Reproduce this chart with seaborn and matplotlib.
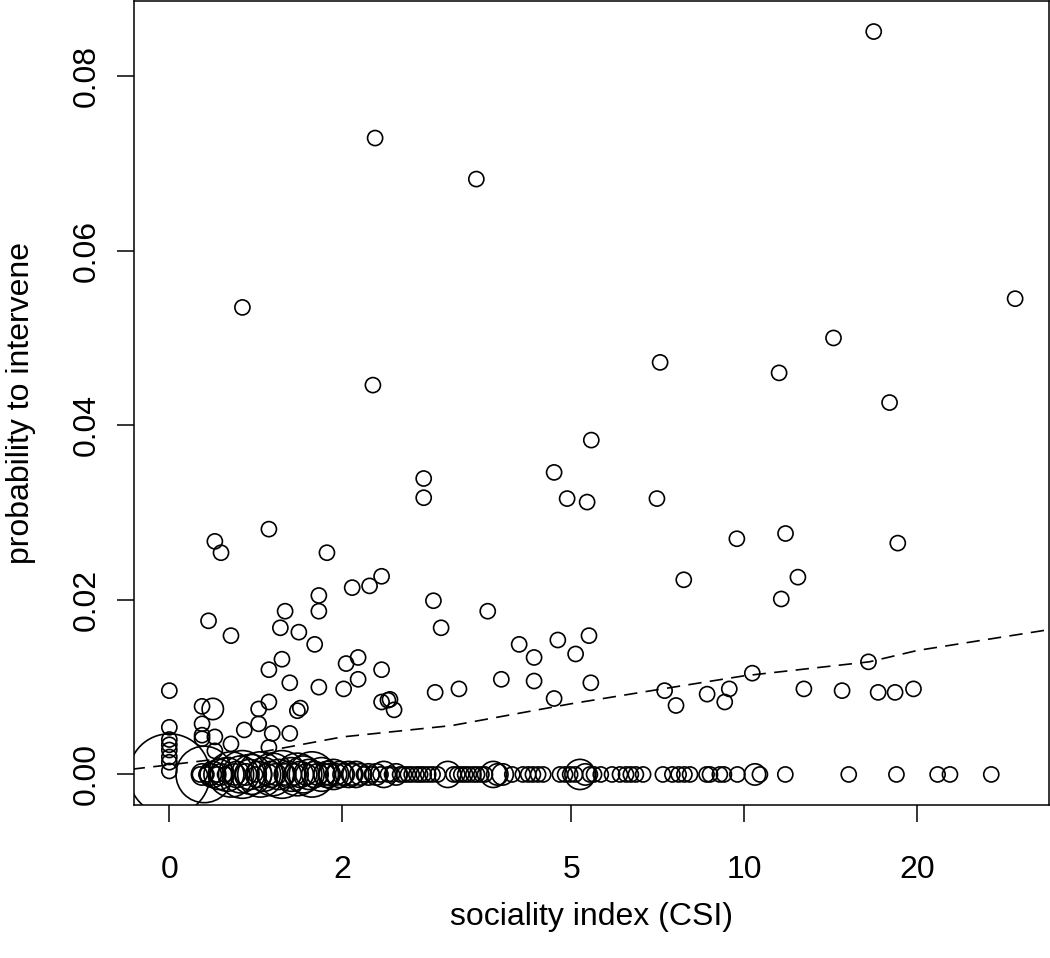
import numpy as np
import pandas as pd
import seaborn as sns
import matplotlib
matplotlib.use('Agg')
import matplotlib.pyplot as plt

# scattered observations (CSI, probability to intervene), one dyad each
pt_csi = [16.8, 2.28, 3.42, 29.6, 1.34, 14.3, 7.14, 11.5, 2.26, 17.9,
          5.42, 4.67, 2.77, 2.77, 4.92, 5.33, 7.05, 1.49, 1.20, 1.23,
          1.88, 11.8, 9.71, 18.5, 7.85, 12.4, 11.6, 2.34, 2.08, 2.23,
          1.82, 1.82, 1.59, 2.88, 3.58, 1.17, 1.28, 1.56, 1.68, 1.79,
          2.97, 4.06, 4.31, 4.74, 5.09, 5.37, 5.41, 1.57, 1.49, 2.03,
          2.13, 2.13, 2.34, 2.01, 1.82, 1.62, 2.90, 3.19, 3.78, 4.31,
          4.67, 7.27, 7.61, 8.62, 9.42, 9.25, 10.33, 12.7, 14.8, 16.45,
          17.1, 18.3, 19.7, 1.14, 1.19, 1.14, 1.14, 1.14, 1.20, 1.20,
          1.28, 1.35, 1.43, 1.43, 1.49, 1.49, 1.51, 1.62, 1.67, 1.69,
          2.34, 2.40, 2.42, 2.46]
pt_prob = [0.0851, 0.0729, 0.0682, 0.0545, 0.0535, 0.0500, 0.0472, 0.0460, 0.0446, 0.0426,
           0.0383, 0.0346, 0.0339, 0.0317, 0.0316, 0.0312, 0.0316, 0.0281, 0.0267, 0.0254,
           0.0254, 0.0276, 0.0270, 0.0265, 0.0223, 0.0226, 0.0201, 0.0227, 0.0214, 0.0216,
           0.0205, 0.0187, 0.0187, 0.0199, 0.0187, 0.0176, 0.0159, 0.0168, 0.0163, 0.0149,
           0.0168, 0.0149, 0.0134, 0.0154, 0.0138, 0.0159, 0.0105, 0.0132, 0.0120, 0.0127,
           0.0134, 0.0109, 0.0120, 0.0098, 0.0100, 0.0105, 0.0094, 0.0098, 0.0109, 0.0107,
           0.0087, 0.0096, 0.0079, 0.0092, 0.0098, 0.0083, 0.0116, 0.0098, 0.0096, 0.0129,
           0.0094, 0.0094, 0.0098, 0.0078, 0.0075, 0.0058, 0.0045, 0.0041, 0.0043, 0.0027,
           0.0035, 0.0051, 0.0075, 0.0058, 0.0083, 0.0031, 0.0047, 0.0047, 0.0073, 0.0076,
           0.0083, 0.0085, 0.0086, 0.0074]
pt_n = [1] * len(pt_csi)
pt_n[74] = 2

# dyads with CSI = 0
zero_prob = [0.0, 0.0004, 0.0014, 0.0020, 0.0028, 0.0034, 0.0040, 0.0054, 0.0096]
zero_n = [29, 1, 1, 1, 1, 1, 1, 1, 1]

# dyads that never intervened (probability 0), n = number of dyads pooled
row_csi = [1.13, 1.14, 1.15, 1.16, 1.18, 1.19, 1.21, 1.22, 1.23, 1.25,
           1.26, 1.28, 1.30, 1.31, 1.33, 1.34, 1.36, 1.38, 1.39, 1.41,
           1.43, 1.44, 1.46, 1.48, 1.50, 1.51, 1.53, 1.55, 1.57, 1.59,
           1.61, 1.63, 1.65, 1.67, 1.69, 1.71, 1.73, 1.75, 1.77, 1.79,
           1.81, 1.84, 1.86, 1.88, 1.90, 1.93, 1.95, 1.98, 2.01, 2.05,
           2.08, 2.11, 2.15, 2.18, 2.22, 2.25, 2.29, 2.33, 2.36, 2.40,
           2.44, 2.48, 2.52, 2.56, 2.60, 2.64, 2.69, 2.73, 2.77, 2.82,
           2.87, 2.93, 3.05, 3.12, 3.17, 3.22, 3.27, 3.32, 3.38, 3.43,
           3.49, 3.54, 3.66, 3.72, 3.80, 3.95, 4.12, 4.21, 4.29, 4.38,
           4.47, 4.78, 4.88, 4.98, 5.08, 5.18, 5.29, 5.39, 5.48, 5.63,
           5.89, 6.08, 6.23, 6.35, 6.48, 6.67, 7.22, 7.50, 7.69, 7.87,
           8.05, 8.60, 8.72, 9.07, 9.22, 9.73, 10.44, 10.65, 11.79, 15.2,
           18.4, 21.7, 22.8, 26.9]
row_n = [1, 2, 14, 1, 2, 3, 1, 4, 2, 1,
         5, 9, 2, 3, 6, 10, 2, 4, 7, 1,
         3, 9, 5, 2, 3, 8, 2, 4, 10, 2,
         3, 5, 2, 8, 3, 6, 2, 4, 9, 3,
         2, 5, 2, 3, 2, 4, 2, 3, 2, 3,
         2, 3, 2, 1, 2, 1, 2, 1, 3, 1,
         1, 2, 1, 1, 1, 1, 1, 1, 1, 1,
         1, 1, 3, 1, 1, 1, 1, 1, 1, 1,
         1, 1, 3, 2, 2, 1, 1, 1, 1, 1,
         1, 1, 1, 1, 1, 4, 2, 1, 1, 1,
         1, 1, 1, 1, 1, 1, 1, 1, 1, 1,
         1, 1, 1, 1, 1, 1, 2, 1, 1, 1,
         1, 1, 1, 1]

# fitted relationship (dashed line)
fit_csi = [0.86, 1.0, 1.3, 2.0, 3.1, 5.0, 6.9, 10.0, 16.5, 20.0, 34.0]
fit_prob = [0.0006, 0.0011, 0.0020, 0.0043, 0.0056, 0.0081, 0.0096, 0.0113, 0.0129, 0.0142, 0.0166]

x_ticks = [0, 2, 5, 10, 20]
y_ticks = [0.00, 0.02, 0.04, 0.06, 0.08]

df = pd.DataFrame({
    'csi': pt_csi + [0.0] * len(zero_prob) + row_csi,
    'prob': pt_prob + zero_prob + [0.0] * len(row_csi),
    'n': pt_n + zero_n + row_n,
})
# CSI = 0 is drawn at the position of 1 on the log axis
df['csi_plot'] = df['csi'].where(df['csi'] > 0, 1.0)
fit = pd.DataFrame({'csi': fit_csi, 'prob': fit_prob})

sns.set_style('white')
plt.rcParams['font.family'] = ['Liberation Sans', 'DejaVu Sans']
plt.rcParams['font.size'] = 23
plt.rcParams['text.color'] = 'black'
plt.rcParams['axes.labelcolor'] = 'black'
plt.rcParams['xtick.color'] = 'black'
plt.rcParams['ytick.color'] = 'black'

fig = plt.figure(figsize=(10.5, 9.58), dpi=100)
ax = fig.add_axes([134 / 1050, 153 / 958, 915 / 1050, 804 / 958])

base = 118.0
sns.scatterplot(data=df, x='csi_plot', y='prob', size='n',
                sizes=(base, base * 29), size_norm=(1, 29),
                facecolor='none', edgecolor='black', linewidth=1.2,
                legend=False, ax=ax)
sns.lineplot(data=fit, x='csi', y='prob', sort=False, color='black',
             linewidth=1.2, dashes=False, ax=ax)
ax.lines[-1].set_dashes((8, 5))

ax.set_xscale('log')
ax.set_xlim(0.868, 33.9)
ax.set_ylim(-0.0035, 0.0886)
ax.set_xticks([t if t > 0 else 1 for t in x_ticks])
ax.set_xticklabels([str(t) for t in x_ticks])
ax.xaxis.set_minor_locator(matplotlib.ticker.NullLocator())
ax.set_yticks(y_ticks)
ax.set_yticklabels(['%.2f' % t for t in y_ticks], rotation=90, va='center')

ax.tick_params(axis='both', direction='out', length=12, width=1.1, colors='black',
               labelsize=23, bottom=True, left=True)
ax.tick_params(axis='x', pad=24)
ax.tick_params(axis='y', pad=11)
for s in ax.spines.values():
    s.set_color('black')
    s.set_linewidth(1.1)

ax.set_xlabel('sociality index (CSI)', fontsize=23)
ax.set_ylabel('probability to intervene', fontsize=23)
ax.xaxis.set_label_coords(0.5, -0.121)
ax.yaxis.set_label_coords(-0.107, 0.5)

plt.savefig('out.png', dpi=100)
